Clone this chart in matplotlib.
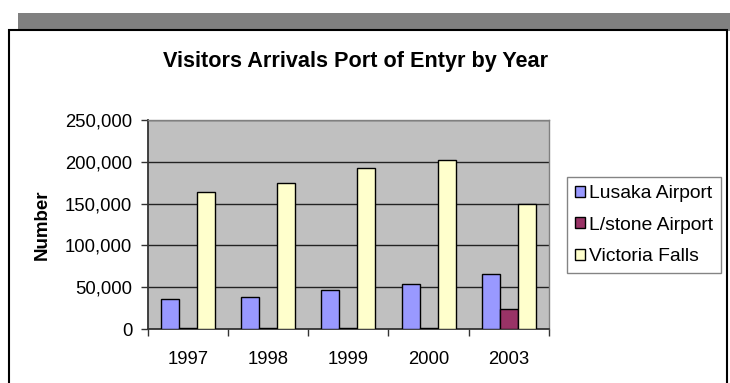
import numpy as np
import matplotlib
matplotlib.use("Agg")
import matplotlib.pyplot as plt
from matplotlib.patches import Rectangle
from matplotlib.ticker import FuncFormatter

plt.rcParams["font.family"] = ["Liberation Sans", "DejaVu Sans"]

# donnees
years = ["1997", "1998", "1999", "2000", "2003"]
lusaka = [35700, 38100, 46400, 53600, 66200]
lstone = [1500, 1400, 1600, 1700, 24500]
victoria = [163900, 175200, 192700, 201700, 149500]

series_names = ["Lusaka Airport", "L/stone Airport", "Victoria Falls"]
colors = ["#9999FF", "#993366", "#FFFFCC"]

W, H = 730, 383
fig = plt.figure(figsize=(W / 100, H / 100), dpi=100)

# ombre grise + cadre du graphique (coord. pixels -> figure)
def px(x0, y0, x1, y1):
    return (x0 / W, 1 - y1 / H), (x1 - x0) / W, (y1 - y0) / H

xy, w, h = px(18, 13, 731, 31)
fig.patches.append(Rectangle(xy, w, h, transform=fig.transFigure,
                             facecolor="#808080", edgecolor="none", zorder=0))
xy, w, h = px(9, 30, 727, 390)
fig.patches.append(Rectangle(xy, w, h, transform=fig.transFigure,
                             facecolor="white", edgecolor="black", lw=1.5, zorder=1))

ax = fig.add_axes([147.5 / W, (H - 329) / H, (549 - 147.5) / W, (329 - 120) / H])
ax.set_zorder(2)
ax.set_facecolor("#C0C0C0")

x = np.arange(len(years))
bw = 0.224
for i, (vals, c, name) in enumerate(zip([lusaka, lstone, victoria], colors, series_names)):
    ax.bar(x + (i - 1) * bw, vals, width=bw, color=c, edgecolor="black",
           linewidth=1.0, label=name, zorder=3)

ax.set_xlim(-0.5, len(years) - 0.5)
ax.set_ylim(0, 250000)
ax.set_yticks(np.arange(0, 250001, 50000))
ax.yaxis.set_major_formatter(FuncFormatter(lambda v, p: f"{int(v):,}"))
ax.set_xticks(x)
ax.set_xticklabels(years)
ax.set_xticks(np.arange(-0.5, len(years), 1), minor=True)
ax.tick_params(axis="x", which="major", length=0, pad=16, labelsize=13.3)
ax.tick_params(axis="x", which="minor", length=5, width=1, color="#333333", direction="out")
ax.tick_params(axis="y", length=5, width=1, color="#333333", pad=6, labelsize=13.3)

ax.yaxis.grid(True, color="#222222", lw=1)
ax.set_axisbelow(True)
for s in ["top", "right"]:
    ax.spines[s].set_color("#808080")
    ax.spines[s].set_linewidth(1)
for s in ["left", "bottom"]:
    ax.spines[s].set_color("#333333")
    ax.spines[s].set_linewidth(1.3)

fig.text(42 / W, 1 - 225 / H, "Number", rotation=90, ha="center", va="center",
         fontsize=13.5, fontweight="bold", zorder=5)

fig.text(355.5 / W, 1 - 62 / H, "Visitors Arrivals Port of Entyr by Year",
         ha="center", va="center", fontsize=15.6, fontweight="bold", zorder=5)

leg = fig.legend(loc="upper left", bbox_to_anchor=(567 / W, 1 - 177 / H),
                 fontsize=13.9, frameon=True, fancybox=False, edgecolor="#666666",
                 handlelength=0.5, handleheight=0.5, handletextpad=0.2,
                 labelspacing=0.75, borderpad=0.42, borderaxespad=0)
leg.get_frame().set_linewidth(1)
leg.set_zorder(5)

fig.savefig("out.png", dpi=100)
